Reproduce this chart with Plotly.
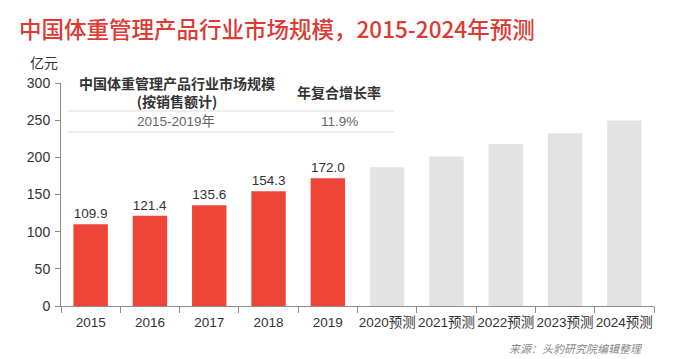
import plotly.graph_objects as go

# Data
actual_years = ["2015", "2016", "2017", "2018", "2019"]
actual_values = [109.9, 121.4, 135.6, 154.3, 172.0]
forecast_years = ["2020预测", "2021预测", "2022预测", "2023预测", "2024预测"]
forecast_values = [186.6, 201.0, 218.0, 232.5, 249.5]
y_ticks = [0, 50, 100, 150, 200, 250, 300]

title_text = "中国体重管理产品行业市场规模，2015-2024年预测"
unit_text = "亿元"
table_header_1 = "中国体重管理产品行业市场规模<br>(按销售额计)"
table_header_2 = "年复合增长率"
table_row_1 = "2015-2019年"
table_row_2 = "11.9%"
source_text = "来源：头豹研究院编辑整理"

NUM = "Liberation Sans, Noto Sans CJK SC, sans-serif"
CJK = "Noto Sans CJK SC, Liberation Sans, sans-serif"

W, H = 673, 359
L, R, T, B = 61, 19, 83, 53

fig = go.Figure()
fig.add_trace(go.Bar(
    x=actual_years, y=actual_values,
    marker=dict(color="#EF4438", line=dict(width=0)),
    text=[f"{v:.1f}" for v in actual_values],
    textposition="outside", cliponaxis=False,
    textfont=dict(family=NUM, size=13.5, color="#333333"),
    hoverinfo="x+y",
))
fig.add_trace(go.Bar(
    x=forecast_years, y=forecast_values,
    marker=dict(color="#E3E3E3", line=dict(width=0)),
    hoverinfo="x+y",
))

fig.update_layout(
    width=W, height=H,
    margin=dict(l=L, r=R, t=T, b=B, pad=0, autoexpand=False),
    paper_bgcolor="white", plot_bgcolor="white",
    barmode="overlay", bargap=0.42,
    showlegend=False,
    font=dict(family=CJK, color="#333333"),
)

fig.update_xaxes(
    type="category",
    categoryorder="array", categoryarray=actual_years + forecast_years,
    showline=True, linecolor="#8c8c8c", linewidth=1,
    ticks="outside", tickson="boundaries", ticklen=6, tickcolor="#8c8c8c",
    tickangle=0, automargin=False, ticklabelstandoff=4,
    tickfont=dict(family=NUM, size=13.5, color="#333333"),
    showgrid=False, zeroline=False,
)
fig.update_yaxes(
    range=[0, 300], tickvals=y_ticks,
    showline=True, linecolor="#8c8c8c", linewidth=1,
    ticks="outside", ticklen=5, tickcolor="#8c8c8c", automargin=False,
    ticklabelstandoff=2,
    tickfont=dict(family=NUM, size=14, color="#333333"),
    showgrid=False, zeroline=False,
)

plot_w = W - L - R
plot_h = H - T - B

def dx(p):
    return (p - L) / plot_w

def dy(p):
    return (H - B - p) / plot_h

annots = [
    dict(text=title_text, x=dx(17), y=dy(28), xanchor="left", yanchor="middle",
         font=dict(family=CJK, size=22.5, color="#DC3A33", weight=500)),
    dict(text=unit_text, x=dx(28), y=dy(62), xanchor="left", yanchor="middle",
         font=dict(family=CJK, size=14, color="#333333")),
    dict(text="<b>" + table_header_1.replace("<br>", "</b><br><b>") + "</b>",
         x=dx(177), y=dy(91.5), xanchor="center", yanchor="middle",
         font=dict(family=CJK, size=14, color="#333333")),
    dict(text="<b>" + table_header_2 + "</b>", x=dx(339), y=dy(92), xanchor="center", yanchor="middle",
         font=dict(family=CJK, size=14, color="#333333")),
    dict(text=table_row_1, x=dx(176), y=dy(122), xanchor="center", yanchor="middle",
         font=dict(family=NUM, size=13.5, color="#666666")),
    dict(text=table_row_2, x=dx(339), y=dy(122), xanchor="center", yanchor="middle",
         font=dict(family=NUM, size=13.5, color="#666666")),
    dict(text="<i>" + source_text + "</i>", x=dx(645), y=dy(348), xanchor="right", yanchor="middle",
         font=dict(family=CJK, size=11, color="#888888")),
]
for a in annots:
    a.update(xref="paper", yref="paper", showarrow=False)
    fig.add_annotation(**a)

for ly in [111, 132]:
    fig.add_shape(type="line", xref="paper", yref="paper",
                  x0=dx(68), x1=dx(394), y0=dy(ly), y1=dy(ly),
                  line=dict(color="#DDDDDD", width=1))

fig.write_html("out.html", config={"displayModeBar": False},
               post_script="document.body.style.margin='0';")
